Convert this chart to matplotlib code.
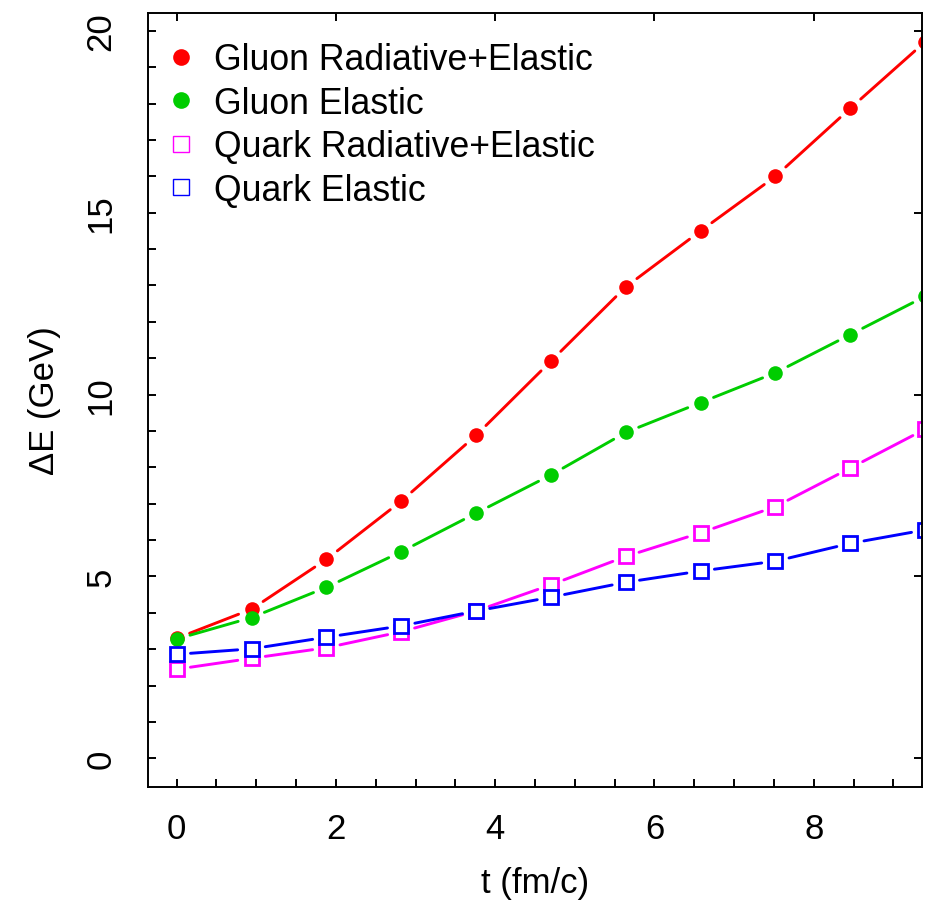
import numpy as np
import matplotlib
matplotlib.use("Agg")
import matplotlib.pyplot as plt
from matplotlib.lines import Line2D
from matplotlib.ticker import MultipleLocator

plt.rcParams['font.family'] = ['Liberation Sans', 'DejaVu Sans']

# time steps (fm/c)
t = [0.0, 0.94, 1.88, 2.82, 3.76, 4.70, 5.64, 6.58, 7.52, 8.46, 9.40]

gluon_rad_el = [3.30, 4.10, 5.47, 7.07, 8.88, 10.92, 12.96, 14.50, 16.00, 17.87, 19.70]
gluon_el = [3.28, 3.87, 4.70, 5.68, 6.74, 7.79, 8.96, 9.78, 10.60, 11.65, 12.70]
quark_rad_el = [2.45, 2.75, 3.04, 3.48, 4.05, 4.77, 5.55, 6.20, 6.92, 7.98, 9.05]
quark_el = [2.86, 3.01, 3.33, 3.64, 4.05, 4.43, 4.84, 5.15, 5.42, 5.91, 6.28]

labels = ["Gluon Radiative+Elastic", "Gluon Elastic",
          "Quark Radiative+Elastic", "Quark Elastic"]
colors = ["#FF0000", "#00CD00", "#FF00FF", "#0000FF"]
markers = ["o", "o", "s", "s"]
series = [gluon_rad_el, gluon_el, quark_rad_el, quark_el]

fig = plt.figure(figsize=(9.31, 9.03), dpi=100)
ax = fig.add_axes([148 / 931, 1 - 788 / 903, 774 / 931, 774 / 903])

for ys, col, mk in zip(series, colors, markers):
    # R type="b": segments with gaps around the points
    for i in range(len(t) - 1):
        ax.annotate("", xy=(t[i + 1], ys[i + 1]), xytext=(t[i], ys[i]),
                    arrowprops=dict(arrowstyle='-', color=col, lw=2.1,
                                    shrinkA=10, shrinkB=10),
                    annotation_clip=False)
    if mk == "o":
        ax.plot(t, ys, linestyle='none', marker='o', markersize=10.5,
                color=col, markeredgewidth=0)
    else:
        ax.plot(t, ys, linestyle='none', marker='s', markersize=10.5,
                markerfacecolor='white', markeredgecolor=col, markeredgewidth=2.0)

ax.set_xlim(-0.36, 9.36)
ax.set_ylim(-0.788, 20.49)

ax.xaxis.set_major_locator(MultipleLocator(2))
ax.xaxis.set_minor_locator(MultipleLocator(0.5))
ax.yaxis.set_major_locator(MultipleLocator(5))
ax.yaxis.set_minor_locator(MultipleLocator(1))

ax.tick_params(which='major', direction='in', length=6, width=1.4,
               top=True, right=True, labelsize=25)
ax.tick_params(which='minor', direction='in', length=6, width=1.4,
               top=False, right=False)
ax.tick_params(axis='x', which='major', pad=18)
ax.tick_params(axis='y', which='major', pad=22, labelrotation=90)
for lab in ax.get_yticklabels():
    lab.set_va('center')

for sp in ax.spines.values():
    sp.set_linewidth(1.4)

ax.set_xlabel("t (fm/c)", fontsize=25, labelpad=15)
ax.set_ylabel("\u0394E (GeV)", fontsize=25, labelpad=17)

handles = []
for lab, col, mk in zip(labels, colors, markers):
    if mk == "o":
        h = Line2D([], [], linestyle='none', marker='o', markersize=12,
                   color=col, markeredgewidth=0, label=lab)
    else:
        h = Line2D([], [], linestyle='none', marker='s', markersize=11,
                   markerfacecolor='white', markeredgecolor=col,
                   markeredgewidth=1.0, label=lab)
    handles.append(h)

ax.legend(handles=handles, loc='upper left', bbox_to_anchor=(0.019, 0.962),
          frameon=False, fontsize=25.7, handlelength=1.0, handletextpad=0.44,
          labelspacing=0.235, borderpad=0, borderaxespad=0)

fig.savefig("out.png", dpi=100)
